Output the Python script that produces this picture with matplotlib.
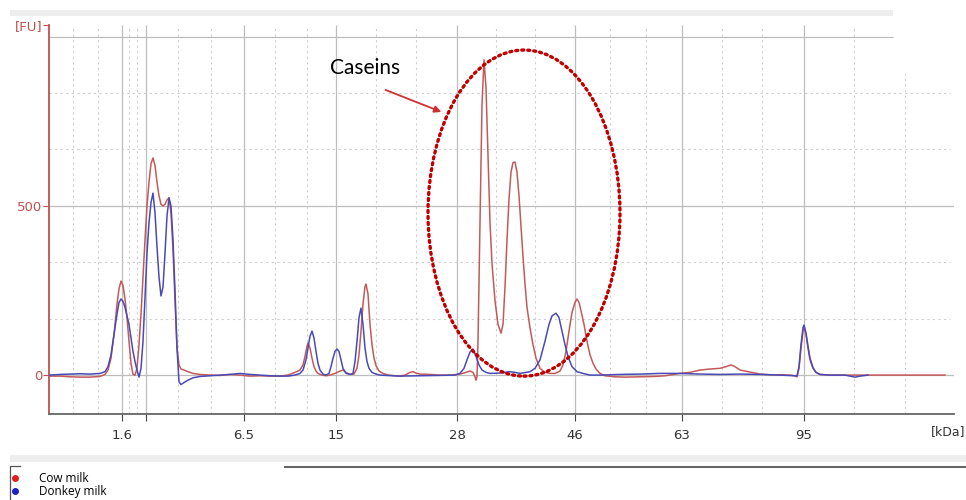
import matplotlib.pyplot as plt
from matplotlib.patches import Ellipse, Rectangle
from matplotlib.lines import Line2D

# migration position (arbitrary units along the run) and fluorescence [FU]
cow_x = [49, 60, 70, 80, 90, 100, 105, 108, 111, 114, 117, 119, 121, 123, 125, 127, 129, 131, 133, 135,
         137, 139, 141, 143, 145, 147, 149, 151, 153, 155, 157, 159, 161, 163, 165, 167, 169, 171, 173, 175,
         177, 179, 181, 184, 188, 193, 200, 210, 220, 230, 240, 250, 260, 270, 280, 288, 295, 300, 303, 305,
         307, 308, 310, 312, 314, 316, 318, 322, 326, 330, 335, 340, 343, 346, 350, 354, 357, 359, 361, 363,
         365, 366, 368, 370, 372, 374, 376, 379, 383, 388, 395, 400, 405, 410, 413, 416, 420, 430, 440, 450,
         460, 466, 470, 473, 475, 476, 477, 478, 480, 482, 484, 486, 488, 490, 492, 495, 498, 501, 503, 505,
         507, 509, 511, 513, 515, 517, 519, 521, 523, 525, 527, 530, 533, 536, 540, 545, 550, 555, 560, 563,
         566, 569, 572, 575, 577, 579, 581, 584, 587, 590, 593, 596, 600, 605, 615, 625, 640, 655, 665, 680,
         690, 700, 710, 720, 726, 731, 735, 740, 745, 752, 760, 770, 780, 790, 795, 797, 799, 801, 803, 804,
         806, 808, 810, 813, 816, 820, 830, 860, 900, 945]
cow_fu = [-3, -3, -5, -6, -6, -4, 2, 15, 50, 120, 210, 255, 278, 265, 225, 170, 100, 35, 2, 0,
          20, 90, 180, 290, 400, 500, 570, 625, 642, 620, 570, 530, 505, 500, 505, 518, 524, 480, 370, 220,
          80, 30, 18, 15, 10, 5, 2, 0, -1, 2, 0, -3, -2, -3, -3, 0, 8, 15, 30, 55,
          85, 95, 80, 50, 25, 12, 5, 0, -2, 0, 5, 12, 15, 8, 2, 3, 20, 60, 130, 210,
          262, 269, 240, 150, 90, 50, 28, 12, 5, 0, -2, -3, 0, 8, 10, 6, 3, 2, 0, 0,
          3, 8, 12, 8, -5, -15, -5, 100, 450, 800, 932, 850, 650, 450, 330, 220, 150, 124, 150, 260,
          400, 520, 600, 628, 630, 600, 530, 440, 350, 270, 200, 140, 90, 50, 20, 8, 5, 5, 12, 30,
          70, 130, 185, 215, 225, 215, 190, 150, 100, 60, 35, 18, 5, -2, -5, -6, -5, -4, -2, 5,
          8, 15, 18, 20, 25, 30, 25, 15, 12, 8, 3, 1, 1, 0, -2, -5, 20, 80, 130, 142,
          120, 80, 45, 20, 8, 2, 0, 0, 0, 0]

donkey_x = [49, 60, 70, 80, 90, 100, 105, 108, 111, 114, 117, 119, 121, 123, 125, 127, 129, 131, 133, 135,
            137, 139, 141, 143, 145, 147, 149, 151, 153, 155, 157, 159, 161, 163, 165, 167, 169, 171, 173, 175,
            177, 179, 181, 184, 188, 193, 200, 210, 220, 230, 240, 250, 260, 270, 280, 288, 295, 300, 303, 306,
            308, 310, 312, 314, 316, 318, 320, 323, 326, 329, 331, 333, 335, 337, 339, 341, 343, 346, 350, 353,
            355, 357, 359, 361, 363, 365, 367, 369, 372, 376, 380, 400, 420, 440, 455, 460, 464, 467, 470, 473,
            476, 479, 482, 486, 490, 500, 510, 515, 520, 530, 535, 540, 545, 549, 552, 556, 559, 562, 565, 568,
            572, 577, 583, 590, 600, 620, 640, 660, 680, 700, 720, 740, 760, 780, 795, 797, 799, 801, 803, 804,
            806, 808, 810, 813, 816, 820, 830, 845, 850, 855, 860, 868]
donkey_fu = [0, 2, 3, 4, 3, 5, 10, 25, 60, 120, 180, 215, 225, 218, 200, 175, 150, 110, 70, 40,
             15, -6, 20, 100, 230, 360, 450, 510, 538, 480, 380, 290, 234, 260, 360, 470, 524, 500, 400, 250,
             80, -20, -28, -22, -15, -8, -4, -2, 0, 2, 5, 2, 0, -2, -3, -3, 0, 5, 15, 45,
             80, 115, 130, 110, 70, 35, 15, 3, 0, 5, 25, 50, 70, 77, 70, 45, 20, 5, 2, 5,
             40, 100, 170, 198, 150, 80, 40, 20, 8, 3, 0, -3, -2, -1, 0, 5, 20, 45, 68, 77,
             55, 30, 15, 8, 5, 6, 10, 8, 5, 10, 20, 45, 100, 150, 175, 183, 170, 130, 90, 55,
             25, 10, 5, 0, 0, 2, 3, 5, 5, 3, 2, 3, 2, 0, -2, -3, 25, 90, 140, 148,
             125, 85, 50, 22, 8, 2, 0, 0, -3, -6, -3, 0]

tick_pos = [122, 146, 244, 336, 457, 575, 682, 804]
tick_labels = ["1.6", "", "6.5", "15", "28", "46", "63", "95"]
minor_pos = [73, 98, 129, 137, 178, 211, 275, 307, 376, 416, 496, 535, 610, 646, 722, 762, 854, 905]
y_solid = [0, 500, 1000]
y_dashed = [167, 333, 667, 833]

COW = "#c35a5a"
DONKEY = "#4a4ab6"
AXRED = "#c0504d"

fig = plt.figure(figsize=(9.66, 5.0), dpi=100)
ax = fig.add_axes([49 / 966, 1 - 414 / 500, 905 / 966, 389 / 500])
ax.set_xlim(49, 954)
ax.set_ylim(-115, 1035)

# grid
ax.vlines(tick_pos, -115, 1035, color="#bdbdbd", lw=0.9, zorder=0)
for x in minor_pos:
    top = 890 if x > 893 else 1035
    ax.vlines(x, -115, top, color="#cfcfcf", lw=0.8, linestyles=(0, (2, 3)), zorder=0)
ax.hlines(y_solid[:2], 49, 954, color="#bdbdbd", lw=0.9, zorder=0)
ax.hlines(y_solid[2], 49, 893, color="#bdbdbd", lw=0.9, zorder=0)
ax.hlines(y_dashed, 49, 950, color="#cfcfcf", lw=0.8, linestyles=(0, (2, 3)), zorder=0)

ax.plot(donkey_x, donkey_fu, color=DONKEY, lw=1.1, zorder=3)
ax.plot(cow_x, cow_fu, color=COW, lw=1.1, zorder=2)

# caseins annotation
ax.add_patch(Ellipse((524, 479), 192, 964, fill=False, edgecolor="#c00000",
                     lw=2.4, linestyle=(0, (0.6, 1.2)), capstyle="round", zorder=4))
ax.annotate("", xy=(444, 775), xytext=(383, 846),
            arrowprops=dict(arrowstyle="-|>", color="#d03030", lw=1.3, mutation_scale=10))
ax.text(330, 908, "Caseins", fontsize=15, family="Lato", va="center", ha="left", color="black")

# axes styling
for s in ["top", "right"]:
    ax.spines[s].set_visible(False)
ax.spines["left"].set_color(AXRED)
ax.spines["left"].set_linewidth(1.3)
ax.spines["bottom"].set_color("#666666")
ax.spines["bottom"].set_linewidth(1.3)
ax.set_xticks(tick_pos)
ax.set_xticklabels(tick_labels, fontsize=9.5, color="#333333")
ax.set_yticks([0, 500, 1035])
ax.set_yticklabels(["0", "500", "[FU]"], fontsize=9.5, color=AXRED)
ax.tick_params(axis="x", length=5, color="#444444", pad=6)
ax.tick_params(axis="y", length=4, color=AXRED, pad=1)
fig.text(965 / 966, 1 - 432 / 500, "[kDa]", fontsize=9, color="#333333", va="center", ha="right")

# screenshot frame and legend
fig.add_artist(Rectangle((10 / 966, 1 - 16 / 500), 883 / 966, 6 / 500, transform=fig.transFigure,
                         facecolor="#ededed", edgecolor="none", zorder=-1))
fig.add_artist(Rectangle((10 / 966, 1 - 462 / 500), 956 / 966, 7 / 500, transform=fig.transFigure,
                         facecolor="#ededed", edgecolor="none", zorder=-1))
fig.add_artist(Line2D([285 / 966, 1], [1 - 467 / 500] * 2, transform=fig.transFigure,
                      color="#666666", lw=1.5))
fig.add_artist(Line2D([10 / 966, 10 / 966, 20 / 966], [0, 1 - 466 / 500, 1 - 466 / 500],
                      transform=fig.transFigure, color="#555555", lw=0.9))
fig.add_artist(Line2D([15 / 966], [1 - 478 / 500], transform=fig.transFigure, marker="o",
                      ms=4, color="#e02020", lw=0))
fig.add_artist(Line2D([15 / 966], [1 - 491 / 500], transform=fig.transFigure, marker="o",
                      ms=4, color="#2020c0", lw=0))
fig.text(39 / 966, 1 - 478 / 500, "Cow milk", fontsize=8.5, va="center", family="Open Sans")
fig.text(39 / 966, 1 - 492 / 500, "Donkey milk", fontsize=8.5, va="center", family="Open Sans")

fig.savefig("out.png", dpi=100)
